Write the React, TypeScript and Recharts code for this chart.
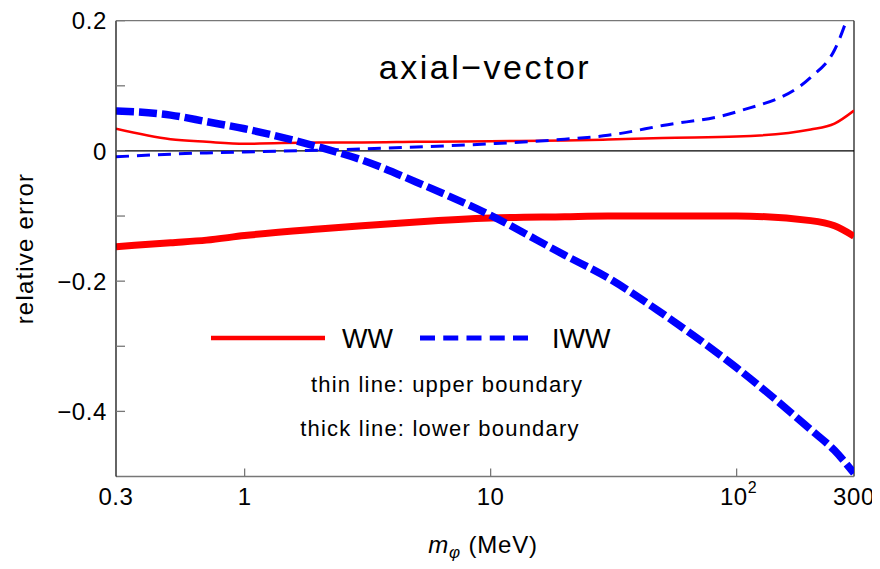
import React from 'react';
import { LineChart, Line, XAxis, YAxis, ReferenceLine, Legend, Label } from 'recharts';

// Scalar mediator mass (MeV) at which the relative errors are sampled
const massMeV = [0.3, 0.5, 0.7, 1, 2, 3, 5, 10, 20, 30, 50, 100, 200, 250, 300];

// WW approximation: upper (thin) and lower (thick) boundary
const wwUpper = [0.034, 0.018, 0.014, 0.011, 0.013, 0.013, 0.014, 0.015, 0.016, 0.0175, 0.02, 0.022, 0.033, 0.042, 0.062];
const wwLower = [-0.147, -0.141, -0.137, -0.13, -0.12, -0.115, -0.109, -0.103, -0.101, -0.1, -0.1, -0.1, -0.107, -0.115, -0.131];

// IWW approximation: upper (thin) and lower (thick) boundary
const iwwUpper = [-0.009, -0.005, -0.003, -0.0015, 0.001, 0.003, 0.006, 0.011, 0.018, 0.024, 0.039, 0.06, 0.113, 0.155, 0.235];
const iwwLower = [0.0615, 0.055, 0.045, 0.034, 0.006, -0.014, -0.048, -0.099, -0.16, -0.195, -0.25, -0.333, -0.428, -0.46, -0.495];

const xTicks = [0.3, 1, 10, 100, 300];
const xTickLabels = ['0.3', '1', '10', '10^2', '300'];
const yTicks = [-0.4, -0.3, -0.2, -0.1, 0, 0.1, 0.2];
const yTickLabels = ['\u22120.4', '', '\u22120.2', '', '0', '', '0.2'];

const seriesNames = ['WW', 'IWW'];
const noteLines = ['thin line: upper boundary', 'thick line: lower boundary'];
const title = 'axial\u2212vector';

const FONT = '"Liberation Sans", Arial, sans-serif';
const RED = '#ff0000';
const BLUE = '#0000ff';
const TICK_GRAY = '#777';

const W = 872;
const H = 555;

const rows = (ys: number[]) => massMeV.map((m, i) => ({ m, v: ys[i] }));

const XTick = (props: any) => {
  const { x, y, payload } = props;
  const axisY = y - 9;
  const idx = xTicks.indexOf(payload.value);
  const label = xTickLabels[idx] ?? String(payload.value);
  const inner = idx > 0 && idx < xTicks.length - 1;
  return (
    <g>
      {inner && <line x1={x} x2={x} y1={axisY} y2={axisY - 8} stroke={TICK_GRAY} strokeWidth={1.3} />}
      {label === '10^2' ? (
        <text x={x + 2} y={axisY + 28.5} fontFamily={FONT} fontSize={24} fill="#000" textAnchor="middle" letterSpacing={0.6}>
          10
          <tspan fontSize={16} dy={-12}>2</tspan>
        </text>
      ) : (
        <text x={x} y={axisY + 28.5} fontFamily={FONT} fontSize={24} fill="#000" textAnchor="middle" letterSpacing={0.6}>
          {label}
        </text>
      )}
    </g>
  );
};

const YTick = (props: any) => {
  const { x, y, payload } = props;
  const axisX = x + 9;
  const idx = yTicks.findIndex((t) => Math.abs(t - payload.value) < 1e-9);
  const label = idx >= 0 ? yTickLabels[idx] : '';
  return (
    <g>
      <line x1={axisX} x2={axisX + 9} y1={y} y2={y} stroke={TICK_GRAY} strokeWidth={1.3} />
      {label && (
        <text x={axisX - 9} y={y} dy="0.36em" fontFamily={FONT} fontSize={24} fill="#000" textAnchor="end" letterSpacing={0.6}>
          {label}
        </text>
      )}
    </g>
  );
};

const XAxisTitle = (props: any) => {
  const vb = props.viewBox;
  const cx = vb.x + vb.width / 2 - 2;
  return (
    <text x={cx} y={vb.y + 76.5} fontFamily={FONT} fontSize={24} fill="#000" textAnchor="middle" letterSpacing={0.8}>
      <tspan fontStyle="italic">m</tspan>
      <tspan fontStyle="italic" fontSize={17} dy={5}>{'\u03c6'}</tspan>
      <tspan dy={-5}>{' (MeV)'}</tspan>
    </text>
  );
};

const YAxisTitle = (props: any) => {
  const vb = props.viewBox;
  const cy = vb.y + vb.height / 2;
  return (
    <text
      transform={`translate(${vb.x + 17.3},${cy}) rotate(-90)`}
      fontFamily={FONT}
      fontSize={24}
      letterSpacing={1.2}
      fill="#000"
      textAnchor="middle"
    >
      relative error
    </text>
  );
};

// Title, series key and the note about line thickness, drawn inside the frame
const Annotations = () => (
  <svg width={W} height={H} style={{ display: 'block' }}>
    <text x={477} y={71.3} fontFamily={FONT} fontSize={34} letterSpacing={2.5} textAnchor="middle" fill="#000">
      {title}
    </text>
    <line x1={203} x2={317} y1={330} y2={330} stroke={RED} strokeWidth={4.5} />
    <text x={334} y={340} fontFamily={FONT} fontSize={27} fill="#000">{seriesNames[0]}</text>
    <line x1={412} x2={520} y1={330} y2={330} stroke={BLUE} strokeWidth={5} strokeDasharray="15 8.25" />
    <text x={544} y={340} fontFamily={FONT} fontSize={27} fill="#000">{seriesNames[1]}</text>
    <text x={439} y={384} fontFamily={FONT} fontSize={22} letterSpacing={1.2} textAnchor="middle" fill="#000">
      {noteLines[0]}
    </text>
    <text x={432} y={428} fontFamily={FONT} fontSize={22} letterSpacing={1.2} textAnchor="middle" fill="#000">
      {noteLines[1]}
    </text>
  </svg>
);

export default function App() {
  return (
    <div style={{ width: W, height: H, background: '#fff' }}>
      <LineChart width={W} height={H} margin={{ top: 12.7, right: 26, bottom: 36.5, left: 8 }}>
        <XAxis
          dataKey="m"
          type="number"
          scale="log"
          domain={[0.3, 300]}
          ticks={xTicks}
          interval={0}
          allowDataOverflow
          height={50}
          tickSize={0}
          tickMargin={9}
          tickLine={false}
          tick={XTick}
          axisLine={{ stroke: TICK_GRAY, strokeWidth: 1.3 }}
        >
          <Label content={XAxisTitle} />
        </XAxis>
        <YAxis
          type="number"
          domain={[-0.5, 0.2]}
          ticks={yTicks}
          interval={0}
          allowDataOverflow
          width={100}
          tickSize={0}
          tickMargin={9}
          tickLine={false}
          tick={YTick}
          axisLine={{ stroke: '#111', strokeWidth: 1.3 }}
        >
          <Label content={YAxisTitle} />
        </YAxis>
        <ReferenceLine y={0.2} stroke={TICK_GRAY} strokeWidth={1.3} />
        <ReferenceLine x={300} stroke="#222" strokeWidth={1.3} />
        <ReferenceLine y={0} stroke="#000" strokeWidth={1.3} />
        <Legend
          layout="horizontal"
          verticalAlign="middle"
          align="center"
          content={Annotations}
          wrapperStyle={{ left: 0, top: 0, width: W, height: H, pointerEvents: 'none' }}
        />
        <Line data={rows(wwUpper)} dataKey="v" name="WW upper" type="monotone" stroke={RED} strokeWidth={2.5} dot={false} activeDot={false} isAnimationActive={false} />
        <Line data={rows(wwLower)} dataKey="v" name="WW lower" type="monotone" stroke={RED} strokeWidth={7} dot={false} activeDot={false} isAnimationActive={false} />
        <Line data={rows(iwwUpper)} dataKey="v" name="IWW upper" type="monotone" stroke={BLUE} strokeWidth={3} strokeDasharray="13 8" dot={false} activeDot={false} isAnimationActive={false} />
        <Line data={rows(iwwLower)} dataKey="v" name="IWW lower" type="monotone" stroke={BLUE} strokeWidth={7.5} strokeDasharray="18 5" dot={false} activeDot={false} isAnimationActive={false} />
      </LineChart>
    </div>
  );
}
